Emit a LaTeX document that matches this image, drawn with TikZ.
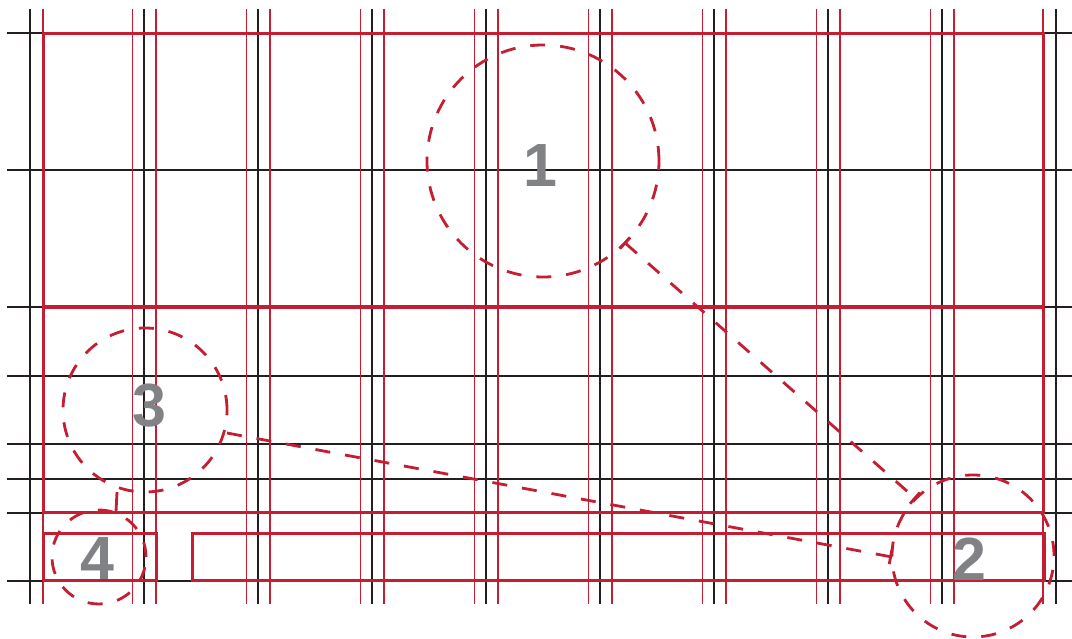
\documentclass[tikz,border=0pt]{standalone}
\usepackage{fontspec}
\newfontfamily\numfont{Liberation Sans}
\usetikzlibrary{arrows.meta}
\definecolor{gridred}{RGB}{196,30,50}
\definecolor{gridblack}{RGB}{35,31,32}
\definecolor{numgray}{RGB}{128,130,133}
\tikzset{
  blackline/.style={draw=gridblack, line width=2pt},
  thinred/.style={draw=gridred, line width=1.4pt},
  redframe/.style={draw=gridred, line width=3pt},
  reddiv/.style={draw=gridred, line width=4.5pt},
  dashpat/.style={draw=gridred, line width=2.8pt, dash pattern=on 15pt off 15pt},
  dcirc/.style={dashpat, circle, inner sep=0pt, fill=none},
  numlabel/.style={text=numgray, font=\numfont\bfseries\fontsize{61}{61}\selectfont, inner sep=0pt},
  tickend/.style={-{Bar[width=15pt, line width=2.8pt]}},
  tickboth/.style={{Bar[width=15pt, line width=2.8pt]}-{Bar[width=15pt, line width=2.8pt]}}
}
\begin{document}
\begin{tikzpicture}[x=1pt, y=-1pt]
\useasboundingbox (0,0) rectangle (1072,639);
\fill[white] (0,0) rectangle (1072,639);
% black grid
\foreach \k in {0,...,9} {
  \draw[blackline] ({30+114*\k},9) -- ({30+114*\k},604);
}
\foreach \y in {33,170,307,375.5,444,478.5,512.5,581} {
  \draw[blackline] (7,\y) -- (1072,\y);
}
% thin red verticals
\draw[thinred] (43,9) -- (43,604);
\draw[thinred] (1043,9) -- (1043,604);
\foreach \k in {1,...,8} {
  \draw[thinred] ({30+114*\k-11.5},9) -- ({30+114*\k-11.5},604);
  \draw[thinred] ({30+114*\k+12},9) -- ({30+114*\k+12},604);
}
% red frames
\draw[redframe] (43,34) rectangle (1043,512);
\draw[reddiv] (43,307) -- (1043,307);
\draw[redframe] (43,533) rectangle (156.5,580);
\draw[redframe] (192.5,533) rectangle (1044,580);
% dashed circles
\node[dcirc, minimum size=232pt] (c1) at (543,161) {};
\node[dcirc, minimum size=162pt] (c2) at (973,556) {};
\node[dcirc, minimum size=164pt] (c3) at (145,410) {};
\node[dcirc, minimum size=94pt] (c4) at (99,557) {};
% numbers
\node[numlabel] (n1) at (540,166) {1};
\node[numlabel] (n2) at (969.5,559) {2};
\node[numlabel] (n3) at (149.5,406) {3};
\node[numlabel] (n4) at (97,559) {4};
% connector end points
\coordinate (a1) at (624,242);
\coordinate (a2) at (916,499);
\coordinate (b3) at (227,433);
\coordinate (b2) at (892,557);
\coordinate (d3) at (117,492);
\coordinate (d4) at (116,512);
% connectors
\draw[dashpat, tickboth] (a1) -- (a2);
\draw[dashpat, tickend] (b3) -- (b2);
\draw[dashpat, dash pattern=on 20pt off 0pt] (d3) -- (d4);
\end{tikzpicture}
\end{document}
